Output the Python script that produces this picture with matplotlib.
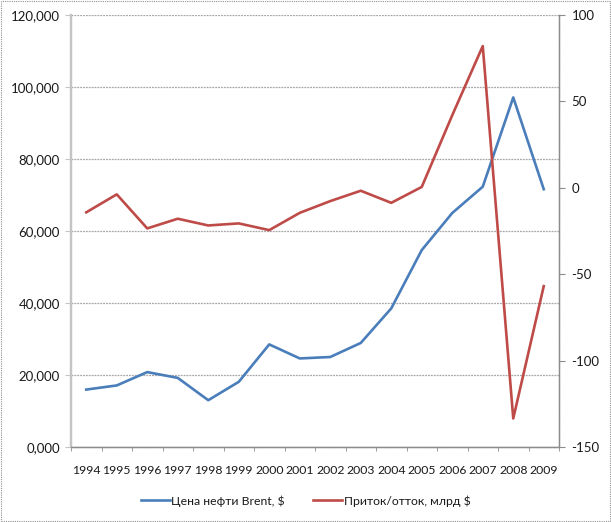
import matplotlib
matplotlib.use("Agg")
import matplotlib.pyplot as plt
from matplotlib.patches import Rectangle
from matplotlib.ticker import FuncFormatter, FixedLocator

plt.rcParams['font.family'] = ['Lato', 'DejaVu Sans']
plt.rcParams['axes.unicode_minus'] = False

years = ["1994", "1995", "1996", "1997", "1998", "1999", "2000", "2001",
         "2002", "2003", "2004", "2005", "2006", "2007", "2008", "2009"]
brent = [15.95, 17.1, 20.8, 19.2, 13.0, 18.1, 28.5, 24.6,
         25.0, 28.9, 38.5, 54.7, 65.0, 72.3, 97.1, 71.6]
flows = [-14.2, -3.8, -23.5, -17.9, -21.8, -20.6, -24.5, -14.5,
         -7.7, -1.7, -8.7, 0.5, 42.0, 82.0, -133.5, -56.9]
label_brent = "Цена нефти Brent, $"
label_flows = "Приток/отток, млрд $"

blue = "#4a7ebb"
red = "#be4b48"
axis_gray = "#8c8c8c"
left_gray = "#c4c4c4"
grid_gray = "#a6a6a6"
txt = "#1a1a1a"

fig = plt.figure(figsize=(6.11, 5.22), dpi=100)
ax = fig.add_axes([71/611, 1-447/522, (559-71)/611, (447-15)/522])
ax2 = ax.twinx()

x = list(range(len(years)))
l1, = ax.plot(x, brent, color=blue, lw=1.9, solid_joinstyle='round', label=label_brent)
l2, = ax2.plot(x, flows, color=red, lw=1.9, solid_joinstyle='round', label=label_flows)

ax.set_xlim(-0.5, len(years) - 0.5)
ax.set_ylim(0, 120)
ax2.set_ylim(-150, 100)
ax.set_yticks([0, 20, 40, 60, 80, 100, 120])
ax.yaxis.set_major_formatter(FuncFormatter(lambda v, p: f"{v:.3f}".replace('.', ',')))
ax2.set_yticks([-150, -100, -50, 0, 50, 100])
ax2.yaxis.set_major_formatter(FuncFormatter(lambda v, p: f"{int(v)}"))

ax.set_xticks(x)
ax.set_xticklabels(years)
ax.xaxis.set_minor_locator(FixedLocator([i - 0.5 for i in range(len(years) + 1)]))
ax.tick_params(axis='x', which='major', length=0, pad=13, labelsize=8.8, colors=txt)
ax.tick_params(axis='x', which='minor', length=3, color=axis_gray, direction='out')
ax.tick_params(axis='y', length=4, color=left_gray, labelsize=9.5, labelcolor=txt, pad=4)
ax2.tick_params(axis='y', length=4, color=axis_gray, labelsize=9.5, labelcolor=txt, pad=5)

ax.yaxis.grid(True, color=grid_gray, lw=0.9, linestyle=(0, (1.5, 0.8)))
ax.set_axisbelow(True)

for a in (ax, ax2):
    a.spines['top'].set_visible(False)
    a.spines['left'].set_color(left_gray)
    a.spines['left'].set_linewidth(1.6)
    for s in ('right', 'bottom'):
        a.spines[s].set_color(axis_gray)
        a.spines[s].set_linewidth(0.9)
        a.spines[s].set_linestyle((0, (1.5, 0.8)))
    a.patch.set_visible(False)

fig.legend(handles=[l1, l2], loc='center', bbox_to_anchor=(0.5, 1-501/522), ncol=2,
           frameon=False, fontsize=8.8, handlelength=2.4, handletextpad=0.1,
           columnspacing=2.3, labelcolor=txt)

fig.patches.append(Rectangle((0.002, 0.002), 0.996, 0.996, transform=fig.transFigure,
                             fill=False, edgecolor='#909090', lw=0.8, linestyle=(0, (1, 1))))

fig.savefig("out.png", dpi=100)
